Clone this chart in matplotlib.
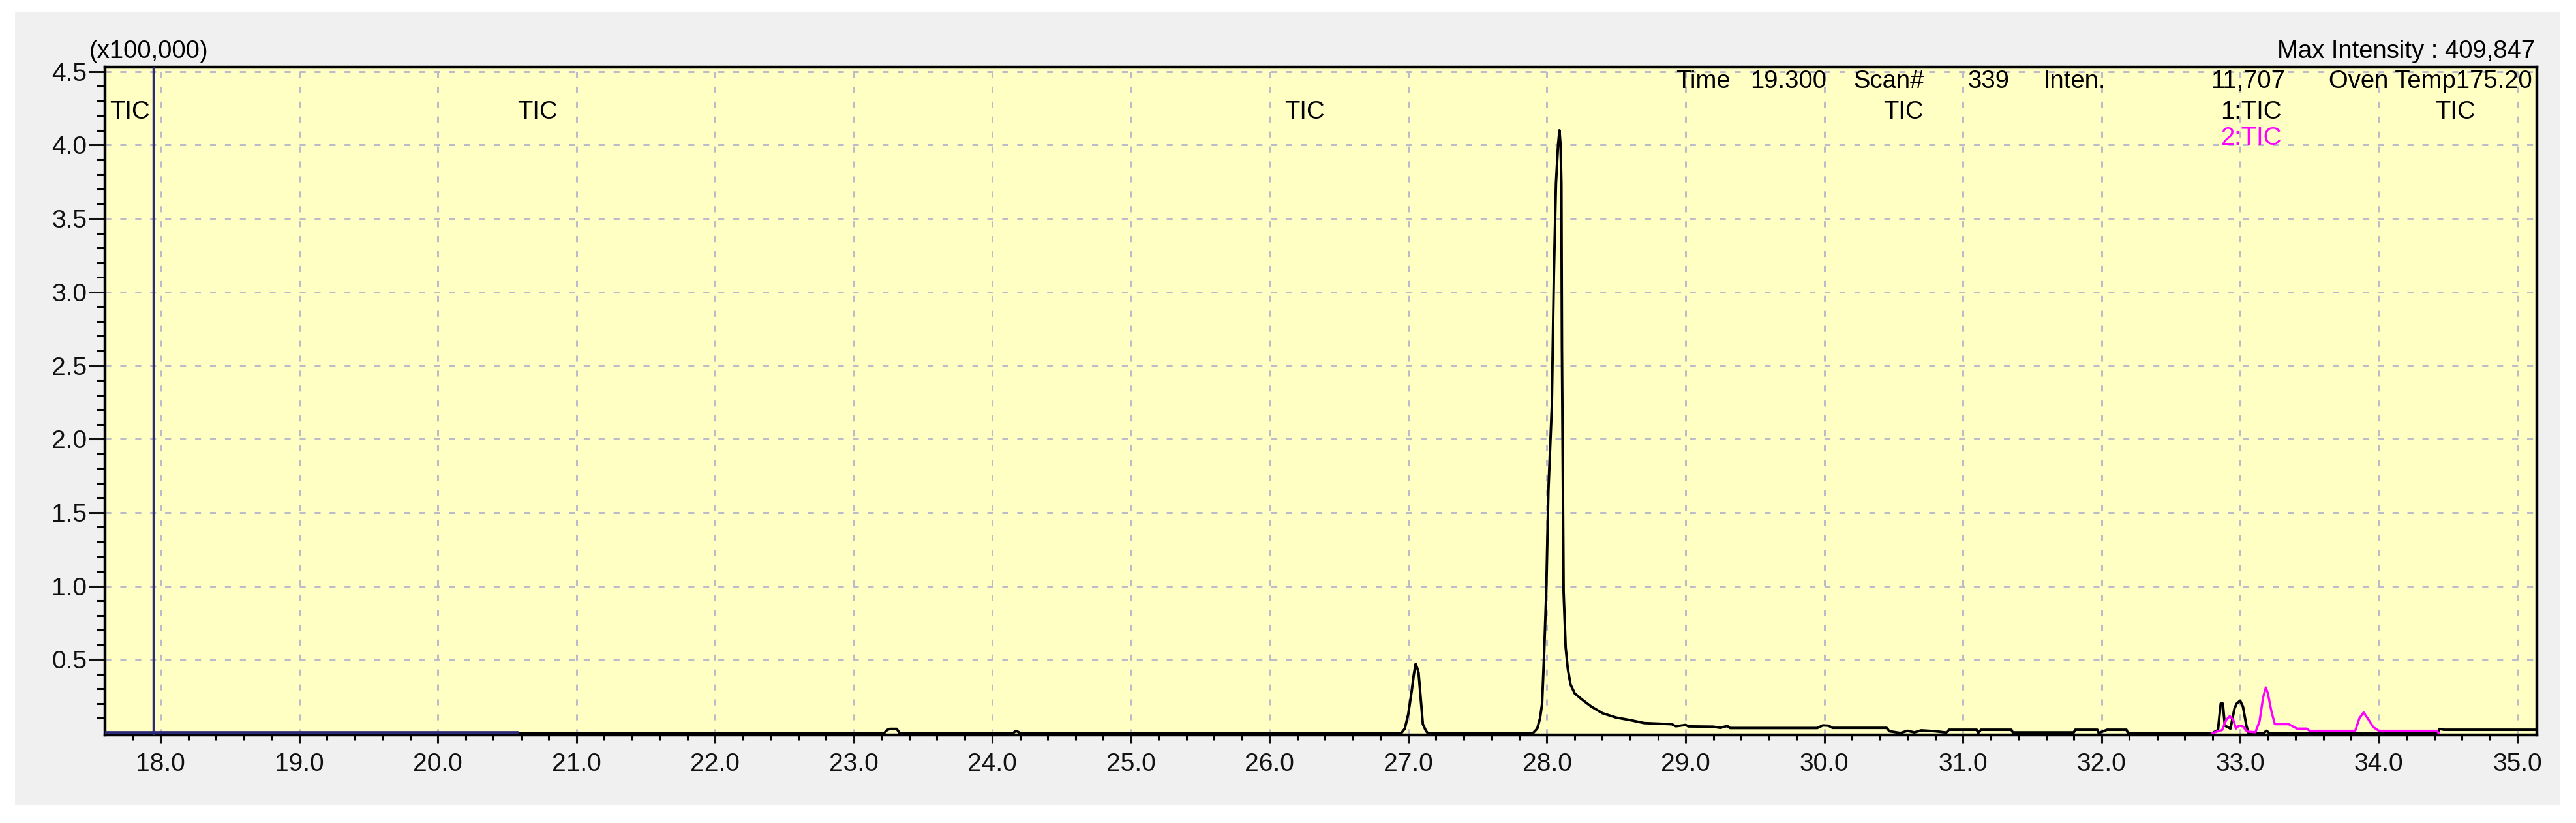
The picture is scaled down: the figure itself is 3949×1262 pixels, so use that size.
import matplotlib.pyplot as plt
import matplotlib.patches as patches
import matplotlib.transforms as transforms
from matplotlib.ticker import FixedLocator
import numpy as np

plt.rcParams['font.family'] = ['Liberation Sans', 'DejaVu Sans']

# 1:TIC (黑色) 保留时间 / 强度 (x100,000)
tic1_time = [17.60, 23.22, 23.24, 23.26, 23.31, 23.33, 24.15, 24.17, 24.20,
             26.95, 26.975, 27.00, 27.025, 27.04, 27.053, 27.065, 27.074, 27.09, 27.105, 27.127, 27.14,
             27.90, 27.93, 27.95, 27.965, 27.98, 27.995, 28.01, 28.035, 28.05, 28.065, 28.08, 28.09,
             28.098, 28.104, 28.108, 28.12, 28.135, 28.15, 28.17, 28.20, 28.25, 28.32, 28.40, 28.50,
             28.60, 28.70, 28.90, 28.93, 29.00, 29.02, 29.20, 29.25, 29.30, 29.32, 29.95, 29.99,
             30.03, 30.06, 30.45, 30.47, 30.55, 30.60, 30.65, 30.70, 30.80, 30.88, 30.90, 31.10,
             31.11, 31.13, 31.35, 31.36, 31.80, 31.81, 31.97, 31.98, 32.04, 32.18, 32.19,
             32.80, 32.84, 32.86, 32.875, 32.89, 32.93, 32.96, 32.975, 33.00, 33.02, 33.045, 33.06,
             33.17, 33.19, 33.21, 34.42, 34.44, 34.47, 35.14]
tic1_inten = [0.0, 0.0, 0.02, 0.028, 0.028, 0.0, 0.0, 0.015, 0.0,
              0.0, 0.03, 0.13, 0.29, 0.40, 0.47, 0.44, 0.41, 0.23, 0.06, 0.015, 0.0,
              0.0, 0.03, 0.10, 0.20, 0.55, 0.96, 1.64, 2.22, 3.12, 3.74, 4.00, 4.10,
              4.00, 3.74, 2.63, 0.96, 0.58, 0.44, 0.33, 0.27, 0.23, 0.18, 0.135, 0.105,
              0.088, 0.068, 0.060, 0.046, 0.055, 0.045, 0.043, 0.035, 0.048, 0.034, 0.034, 0.052,
              0.050, 0.035, 0.035, 0.012, 0.0, 0.015, 0.004, 0.018, 0.012, 0.003, 0.022, 0.022,
              0.0, 0.022, 0.022, 0.004, 0.004, 0.022, 0.022, 0.0, 0.022, 0.022, 0.0,
              0.0, 0.02, 0.20, 0.20, 0.05, 0.03, 0.17, 0.20, 0.22, 0.18, 0.05, 0.0,
              0.0, 0.015, 0.0, 0.0, 0.028, 0.022, 0.022]

# 2:TIC (品红)
tic2_time = [32.80, 32.87, 32.90, 32.925, 32.95, 32.97, 32.99, 33.02, 33.05, 33.11, 33.14,
             33.165, 33.185, 33.20, 33.225, 33.25, 33.35, 33.38, 33.41, 33.48, 33.50, 33.83,
             33.86, 33.89, 33.92, 33.96, 34.00, 34.42, 34.43]
tic2_inten = [0.0, 0.02, 0.09, 0.115, 0.09, 0.03, 0.05, 0.045, 0.01, 0.005, 0.08,
              0.24, 0.31, 0.27, 0.15, 0.06, 0.06, 0.045, 0.03, 0.03, 0.015, 0.015,
              0.10, 0.14, 0.10, 0.04, 0.015, 0.015, 0.0]

# 起始段 (深蓝) 与光标位置
base_time = [17.60, 20.57]
base_inten = [0.005, 0.005]
cursor_time = 17.947

# 分段标签位置
segment_times = [20.72, 26.25, 30.57, 34.55]

x_ticks = np.arange(18.0, 35.01, 1.0)
y_ticks = [0.5, 1.0, 1.5, 2.0, 2.5, 3.0, 3.5, 4.0, 4.5]

# 画布
fig = plt.figure(figsize=(39.49, 12.62), dpi=100, facecolor='white')
fig.patches.append(patches.Rectangle((0.0058, 0.0214), 0.9882, 0.9636, transform=fig.transFigure,
                                     facecolor='#F0F0F0', edgecolor='none', zorder=-10))

ax = fig.add_axes([0.0408, 0.107, 0.944, 0.8114])
ax.set_zorder(1)
ax.set_facecolor('#FFFFC4')
ax.set_xlim(17.6, 35.14)
ax.set_ylim(-0.013, 4.53)

# 网格线
ax.set_axisbelow(True)
ax.grid(True, which='major', color='#BCBCC8', linestyle=(0, (3, 4.5)), linewidth=2.2)

# 曲线
ax.plot(tic1_time, tic1_inten, color='black', linewidth=2.8, zorder=3)
ax.plot(tic2_time, tic2_inten, color='#FF00FF', linewidth=2.5, zorder=4)
ax.plot(base_time, base_inten, color='#2B2B7A', linewidth=3.4, zorder=4)
ax.axvline(cursor_time, color='#2B2B7A', linewidth=2.5, zorder=4)

# 坐标轴刻度
ax.xaxis.set_major_locator(FixedLocator(x_ticks))
ax.xaxis.set_minor_locator(FixedLocator(np.arange(17.8, 35.15, 0.2)))
ax.yaxis.set_major_locator(FixedLocator(y_ticks))
ax.yaxis.set_minor_locator(FixedLocator(np.arange(0.1, 4.51, 0.1)))
ax.set_xticklabels([f'{v:.1f}' for v in x_ticks])
ax.set_yticklabels([f'{v:.1f}' for v in y_ticks])
ax.tick_params(axis='x', which='major', length=9.5, width=2.2, pad=10, labelsize=28, colors='#111111')
ax.tick_params(axis='x', which='minor', length=6, width=2.2)
ax.tick_params(axis='y', which='major', length=18, width=2.2, pad=2, labelsize=28, colors='#111111')
ax.tick_params(axis='y', which='minor', length=9.5, width=2.2)
for s in ax.spines.values():
    s.set_linewidth(3.2)
    s.set_color('black')

# 顶部文字
fs = 27.5
fig.text(0.0347, 0.9374, '(x100,000)', fontsize=fs, va='center', ha='left')
fig.text(0.984, 0.9374, 'Max Intensity : 409,847', fontsize=fs, va='center', ha='right')

row1, row2, row3 = 0.9785, 0.9326, 0.8936
ax.text(0.646, row1, 'Time', transform=ax.transAxes, fontsize=fs, va='center', ha='left')
ax.text(0.708, row1, '19.300', transform=ax.transAxes, fontsize=fs, va='center', ha='right')
ax.text(0.719, row1, 'Scan#', transform=ax.transAxes, fontsize=fs, va='center', ha='left')
ax.text(0.766, row1, '339', transform=ax.transAxes, fontsize=fs, va='center', ha='left')
ax.text(0.797, row1, 'Inten.', transform=ax.transAxes, fontsize=fs, va='center', ha='left')
ax.text(0.8965, row1, '11,707', transform=ax.transAxes, fontsize=fs, va='center', ha='right')
ax.text(0.998, row1, 'Oven Temp175.20', transform=ax.transAxes, fontsize=fs, va='center', ha='right')

ax.text(0.002, row2, 'TIC', transform=ax.transAxes, fontsize=fs, va='center', ha='left')
trans = transforms.blended_transform_factory(ax.transData, ax.transAxes)
for t in segment_times:
    ax.text(t, row2, 'TIC', transform=trans, fontsize=fs, va='center', ha='center')
ax.text(0.895, row2, '1:TIC', transform=ax.transAxes, fontsize=fs, va='center', ha='right')
ax.text(0.895, row3, '2:TIC', transform=ax.transAxes, fontsize=fs, va='center', ha='right', color='#FF00FF')

plt.savefig('out.png', dpi=100, facecolor='white')
